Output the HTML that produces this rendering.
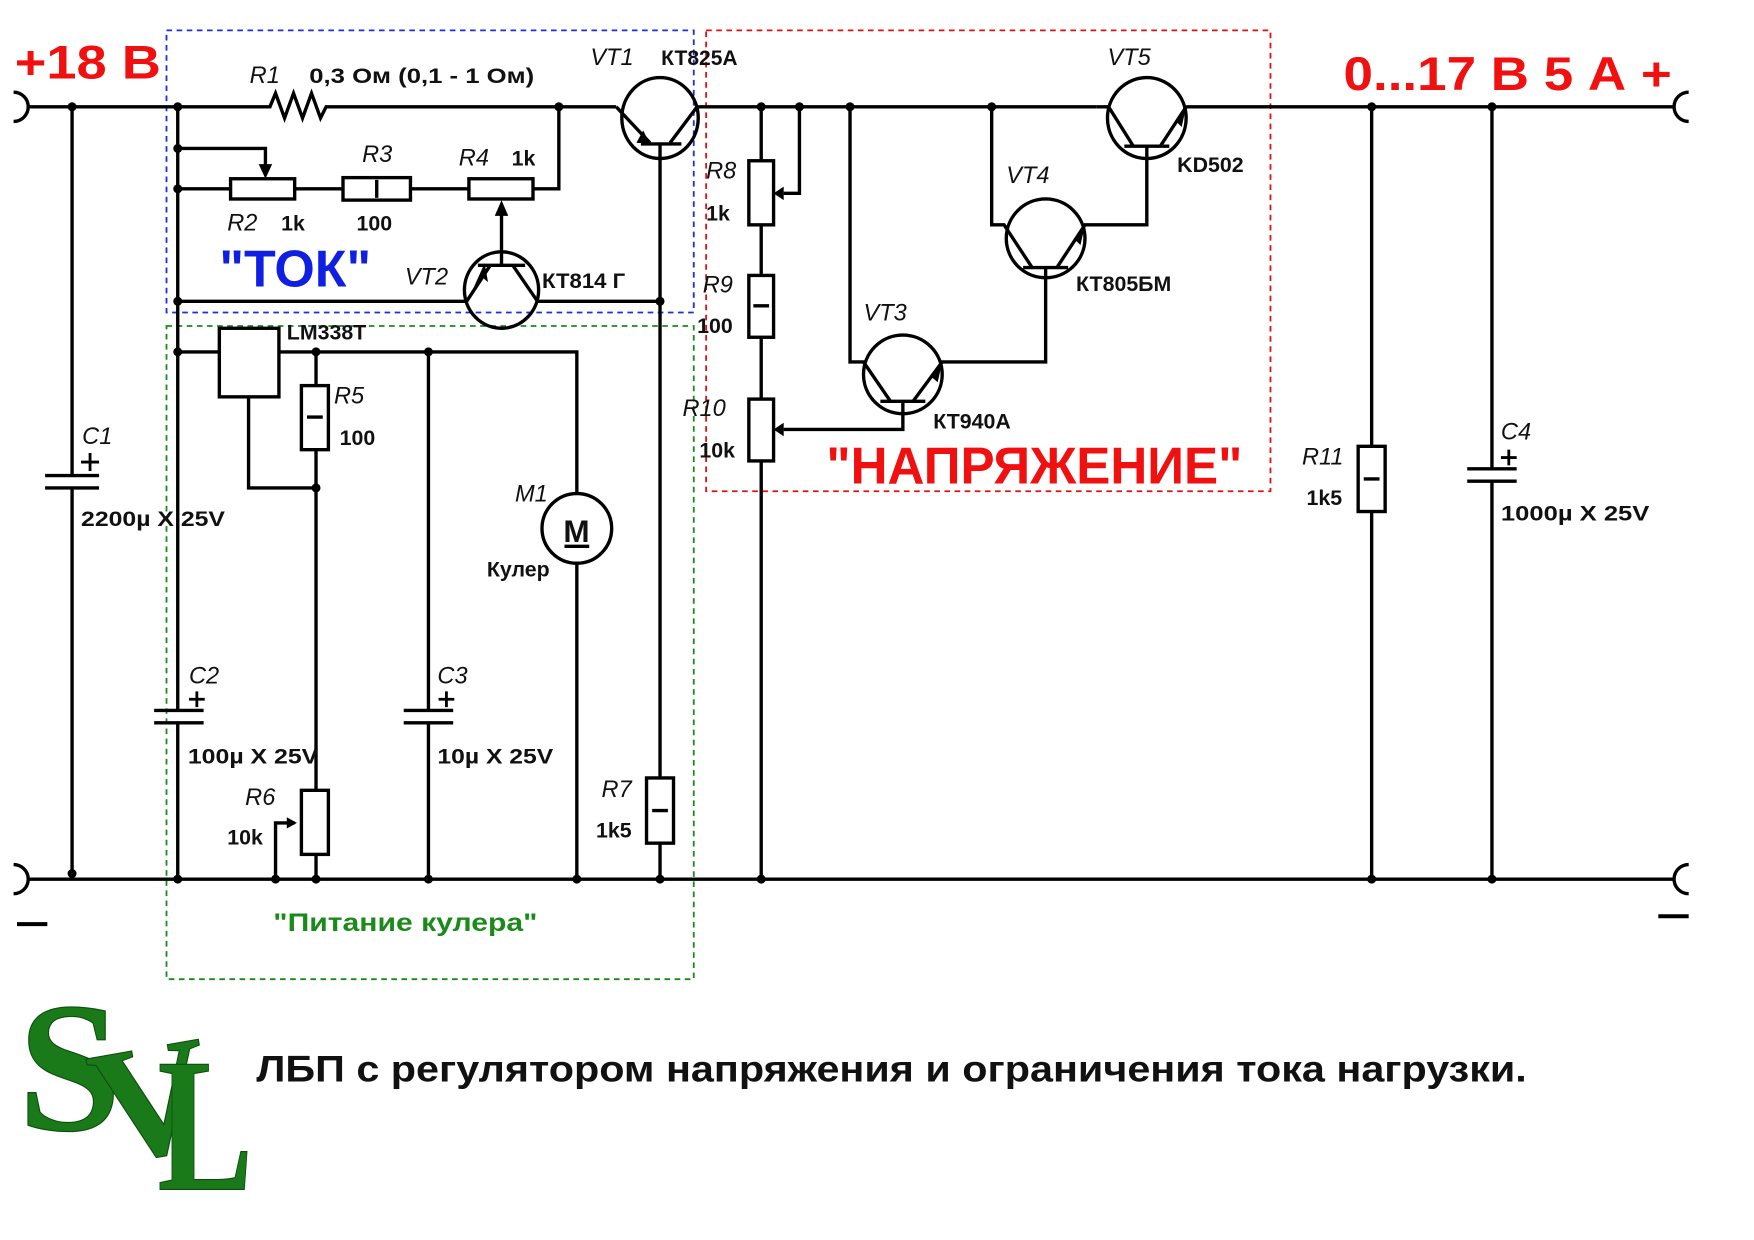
<!DOCTYPE html>
<html><head><meta charset="utf-8"><style>
html,body{margin:0;padding:0;background:#fff;}
svg{display:block;}
text{font-family:"Liberation Sans",sans-serif;}
text.serif{font-family:"Liberation Serif",serif;}
.i{font-style:italic;font-size:21px;fill:#111;}
.b{font-weight:bold;font-size:19px;fill:#111;}
</style></head><body>
<svg width="1754" height="1240" viewBox="0 0 1560 1103" xmlns="http://www.w3.org/2000/svg">
<rect width="1560" height="1103" fill="#fff"/>
<rect x="148" y="27" width="469" height="251" fill="none" stroke="#1a2fe0" stroke-width="1.6" stroke-dasharray="5,4"/>
<rect x="148" y="290" width="469" height="581" fill="none" stroke="#1a8a1a" stroke-width="1.6" stroke-dasharray="5,4"/>
<rect x="628" y="27" width="502" height="410" fill="none" stroke="#e01010" stroke-width="1.6" stroke-dasharray="5,4"/>

<g stroke="#000" stroke-width="3" fill="none">
<path d="M12,82 A13,13 0 0 1 12,108"/><path d="M12,769 A13,13 0 0 1 12,795"/>
<path d="M1502,82 A13,13 0 0 0 1502,108"/><path d="M1502,769 A13,13 0 0 0 1502,795"/>
<path d="M25,95 H240 l5,-12 l8,22 l8,-22 l8,22 l8,-22 l8,22 l5,-10 H548"/>
<path d="M620,95 H975"/>
<path d="M1055,95 H1490"/>
<path d="M25,782 H1490"/>
<path d="M64,95 V423 M40,423 H88 M40,434 H88 M64,434 V782"/>
<path d="M158,95 V632 M137,632 H181 M137,643 H181 M158,643 V782"/>
<path d="M158,168 H205 M262,168 H305 M365,168 H417 M474,168 H497 V95"/>
<rect x="205" y="159" width="57" height="18"/>
<rect x="305" y="158" width="60" height="20"/>
<path d="M335,160 V176"/>
<rect x="417" y="159" width="57" height="18"/>
<path d="M158,132 H236 V150"/>
<path d="M446,190 V235"/>
<ellipse cx="446" cy="258" rx="33" ry="34"/>
<path d="M425,236 H467"/>
<path d="M436,236 L415,268 M456,236 L478,268"/>
<path d="M158,268 H415 M478,268 H587"/>
<ellipse cx="587" cy="105" rx="34" ry="36"/>
<path d="M548,95 L578,127 M570,128 H606 M596,127 L620,95"/>
<path d="M587,128 V692 M587,750 V782"/>
<rect x="575" y="692" width="24" height="58"/>
<path d="M580,721 H594"/>
<rect x="195" y="292" width="53" height="61"/>
<path d="M158,313 H195 M248,313 H513 V439 M513,501 V782"/>
<path d="M221,353 V434 H281"/>
<path d="M281,313 V343 M281,400 V703 M281,760 V782"/>
<rect x="268" y="343" width="24" height="57"/>
<path d="M273,371 H287"/>
<rect x="268" y="703" width="24" height="57"/>
<path d="M245,782 V732 H262"/>
<path d="M381,313 V632 M359,632 H403 M359,643 H403 M381,643 V782"/>
<circle cx="513" cy="470" r="31"/>
<path d="M502,486 H524"/>
<path d="M677,95 V143 M677,200 V245 M677,300 V355 M677,410 V782"/>
<rect x="666" y="143" width="22" height="57"/>
<rect x="666" y="245" width="22" height="55"/>
<path d="M670,272 H684"/>
<rect x="666" y="355" width="22" height="55"/>
<path d="M711,95 V172 H697"/>
<path d="M803,358 V382 H697"/>
<ellipse cx="803" cy="333" rx="35" ry="35"/>
<path d="M756,95 V322 H768 L792,357 M783,357 H823 M812,357 L838,322 H930 V238"/>
<ellipse cx="930" cy="212" rx="35" ry="35"/>
<path d="M882,95 V200 H893 L918,238 M910,238 H950 M940,238 L965,200 H1020 V130"/>
<ellipse cx="1020" cy="105" rx="35" ry="36"/>
<path d="M975,95 H986 L1008,130 M1000,130 H1040 M1032,130 L1055,95"/>
<path d="M1220,95 V397 M1220,455 V782"/>
<rect x="1208" y="397" width="24" height="58"/>
<path d="M1213,426 H1227"/>
<path d="M1327,95 V417 M1305,417 H1349 M1305,428 H1349 M1327,428 V782"/>
<path d="M80,403 V419 M72,411 H88 M175,615 V629 M168,622 H182 M397,615 V629 M390,622 H404 M1342,400 V414 M1335,407 H1349" stroke-width="2.5"/>
<path d="M15,822 H42 M1475,815 H1502" stroke-width="3.5"/>
</g>
<g fill="#000">
<polygon points="230,146 242,146 236,159"/>
<polygon points="440,192 452,192 446,178"/>
<polygon points="697,166 697,178 688,172"/>
<polygon points="697,376 697,388 688,382"/>
<polygon points="255,727 255,737 264,732"/>
<polygon points="566,127 578,128 572,116"/>
<polygon points="418,263 428,246 434,251 431,234"/>
<polygon points="828,335 838,322 834,340"/>
<polygon points="956,213 965,200 961,218"/>
<polygon points="1046,108 1055,95 1051,113"/>
<circle cx="64" cy="95" r="4"/><circle cx="158" cy="95" r="4"/><circle cx="497" cy="95" r="4"/>
<circle cx="677" cy="95" r="4"/><circle cx="711" cy="95" r="4"/><circle cx="756" cy="95" r="4"/><circle cx="882" cy="95" r="4"/>
<circle cx="1220" cy="95" r="4"/><circle cx="1327" cy="95" r="4"/>
<circle cx="158" cy="132" r="4"/><circle cx="158" cy="168" r="4"/><circle cx="158" cy="268" r="4"/><circle cx="158" cy="313" r="4"/>
<circle cx="587" cy="268" r="4"/><circle cx="281" cy="313" r="4"/><circle cx="381" cy="313" r="4"/><circle cx="281" cy="434" r="4"/>
<circle cx="64" cy="777" r="4"/><circle cx="158" cy="782" r="4"/><circle cx="245" cy="782" r="4"/><circle cx="281" cy="782" r="4"/>
<circle cx="381" cy="782" r="4"/><circle cx="513" cy="782" r="4"/><circle cx="587" cy="782" r="4"/><circle cx="677" cy="782" r="4"/>
<circle cx="1220" cy="782" r="4"/><circle cx="1327" cy="782" r="4"/>
</g>
<text x="13" y="70" font-size="42" font-weight="bold" fill="#f01010" textLength="130" lengthAdjust="spacingAndGlyphs">+18 В</text>
<text x="1195" y="80" font-size="42" font-weight="bold" fill="#f01010" textLength="292" lengthAdjust="spacingAndGlyphs">0...17 В  5 А +</text>
<text x="195" y="255" font-size="46" font-weight="bold" fill="#1020e0" textLength="135" lengthAdjust="spacingAndGlyphs">"ТОК"</text>
<text x="735" y="430" font-size="46" font-weight="bold" fill="#f01010" textLength="370" lengthAdjust="spacingAndGlyphs">"НАПРЯЖЕНИЕ"</text>
<text x="243" y="828" font-size="22" font-weight="bold" fill="#1a8a1a" textLength="235" lengthAdjust="spacingAndGlyphs">"Питание кулера"</text>
<text x="228" y="962" font-size="33" font-weight="bold" fill="#111" textLength="1130" lengthAdjust="spacingAndGlyphs">ЛБП с регулятором напряжения и ограничения тока нагрузки.</text>

<text class="i" x="222" y="74">R1</text>
<text class="b" x="275" y="74" textLength="200" lengthAdjust="spacingAndGlyphs">0,3 Ом (0,1 - 1 Ом)</text>
<text class="i" x="525" y="58">VT1</text>
<text class="b" x="588" y="58" textLength="68" lengthAdjust="spacingAndGlyphs">КТ825А</text>
<text class="i" x="322" y="144">R3</text>
<text class="i" x="408" y="147">R4</text>
<text class="b" x="455" y="147">1k</text>
<text class="i" x="202" y="205">R2</text>
<text class="b" x="250" y="205">1k</text>
<text class="b" x="317" y="205">100</text>
<text class="i" x="360" y="253">VT2</text>
<text class="b" x="482" y="256" textLength="74" lengthAdjust="spacingAndGlyphs">КТ814 Г</text>
<text class="b" x="255" y="302">LM338T</text>
<text class="i" x="297" y="359">R5</text>
<text class="b" x="302" y="396">100</text>
<text class="i" x="73" y="395">C1</text>
<text class="b" x="72" y="468" textLength="128" lengthAdjust="spacingAndGlyphs">2200µ X 25V</text>
<text class="i" x="458" y="446">M1</text>
<text x="501" y="482" font-size="28" font-weight="bold" fill="#111">M</text>
<text class="b" x="433" y="513">Кулер</text>
<text class="i" x="168" y="608">C2</text>
<text class="b" x="167" y="679" textLength="116" lengthAdjust="spacingAndGlyphs">100µ X 25V</text>
<text class="i" x="389" y="608">C3</text>
<text class="b" x="389" y="679" textLength="103" lengthAdjust="spacingAndGlyphs">10µ X 25V</text>
<text class="i" x="218" y="716">R6</text>
<text class="b" x="202" y="751">10k</text>
<text class="i" x="535" y="709">R7</text>
<text class="b" x="530" y="745">1k5</text>
<text class="i" x="628" y="159">R8</text>
<text class="b" x="628" y="196">1k</text>
<text class="i" x="625" y="260">R9</text>
<text class="b" x="620" y="296">100</text>
<text class="i" x="607" y="370">R10</text>
<text class="b" x="622" y="407">10k</text>
<text class="i" x="768" y="285">VT3</text>
<text class="b" x="830" y="381">КТ940А</text>
<text class="i" x="895" y="163">VT4</text>
<text class="b" x="957" y="259">КТ805БМ</text>
<text class="i" x="985" y="58">VT5</text>
<text class="b" x="1047" y="153">KD502</text>
<text class="i" x="1158" y="413">R11</text>
<text class="b" x="1162" y="449">1k5</text>
<text class="i" x="1335" y="391">C4</text>
<text class="b" x="1335" y="463" textLength="132" lengthAdjust="spacingAndGlyphs">1000µ X 25V</text>
<g font-weight="bold" fill="#1a7a1a" stroke="#0e4e0e" stroke-width="1">
<text class="serif" x="16" y="1005" font-size="165">S</text>
<text class="serif" x="82" y="1030" font-size="145" transform="rotate(-10 120 980)">V</text>
<text class="serif" x="140" y="1058" font-size="170" textLength="85" lengthAdjust="spacingAndGlyphs">L</text>
</g>
</svg>
</body></html>
